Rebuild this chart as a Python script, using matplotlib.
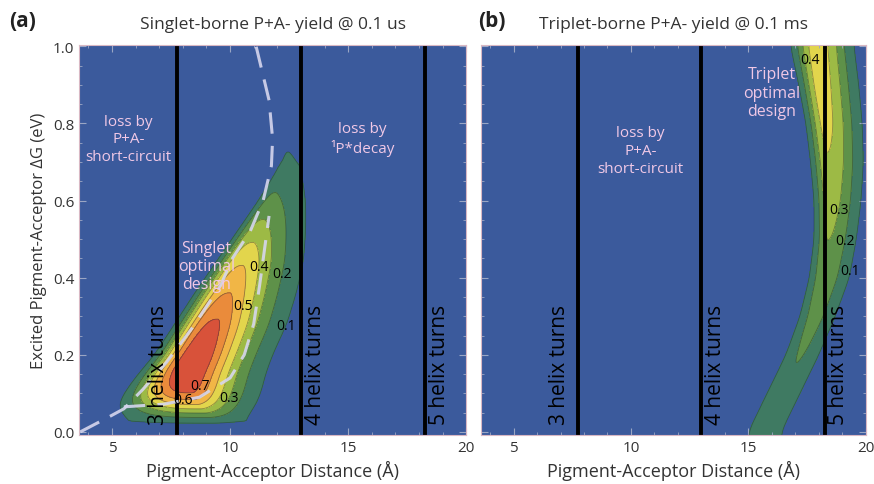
import numpy as np
import matplotlib
matplotlib.use("Agg")
import matplotlib.pyplot as plt

plt.rcParams['font.family'] = ['Open Sans', 'DejaVu Sans']

# contour levels and fill colours (below 0.1 is the blue background)
levels = [0.1, 0.2, 0.3, 0.4, 0.5, 0.6, 0.7]
fill_colors = ['#3b5a9c', '#3f7a62', '#5e9149', '#9dba45', '#e2d54c',
               '#f1b646', '#ea8b3b', '#d8523a']

# singlet-borne yield: per-row peak, ridge position and 0.1-level edges
s_dg = [0.00, 0.03, 0.06, 0.10, 0.15, 0.20, 0.28, 0.36, 0.44, 0.52, 0.60, 0.68, 0.76, 1.00]
s_peak = [0.00, 0.09, 0.42, 0.74, 0.81, 0.80, 0.72, 0.60, 0.49, 0.35, 0.22, 0.14, 0.07, 0.00]
s_ridge = [9.5, 9.3, 8.7, 8.3, 8.4, 8.8, 9.4, 10.0, 10.6, 11.2, 11.8, 12.3, 12.6, 12.8]
s_left = [6.2, 5.7, 5.2, 5.5, 6.1, 6.8, 7.65, 8.5, 9.4, 10.3, 11.2, 12.0, 12.6, 12.8]
s_right = [10.6, 10.6, 11.0, 11.3, 11.5, 11.8, 12.4, 12.8, 13.1, 13.2, 13.2, 13.0, 12.8, 12.8]

# triplet-borne yield
t_dg = [0.0, 0.1, 0.2, 0.3, 0.4, 0.5, 0.6, 0.7, 0.8, 0.9, 1.0]
t_peak = [0.165, 0.18, 0.205, 0.235, 0.265, 0.30, 0.35, 0.39, 0.43, 0.45, 0.46]
t_ridge = [15.7, 16.5, 17.2, 17.8, 18.2, 18.4, 18.45, 18.4, 18.25, 18.05, 17.9]
t_left = [15.0, 15.8, 16.6, 17.2, 17.6, 17.8, 17.8, 17.65, 17.45, 17.15, 16.8]
t_right = [16.4, 17.2, 18.0, 18.7, 19.3, 19.6, 19.8, 19.9, 19.85, 19.7, 19.5]

# optimal-design dashed curves (distance, dG)
opt_r = [3.65, 4.9, 5.5, 6.3, 7.3, 8.4, 9.6, 10.1, 10.85, 11.4, 11.75, 11.8, 11.65, 11.1]
opt_dg = [0.0, 0.04, 0.06, 0.11, 0.18, 0.27, 0.38, 0.45, 0.52, 0.60, 0.69, 0.76, 0.86, 1.0]
opt2_r = [5.5, 7.2, 8.7, 10.0, 10.6, 11.0, 11.25, 11.45, 11.65]
opt2_dg = [0.065, 0.072, 0.09, 0.14, 0.20, 0.28, 0.38, 0.47, 0.56]

helix_r = [7.75, 13.0, 18.25]
helix_labels = ['3 helix turns', '4 helix turns', '5 helix turns']

# where each contour level gets its value written
s_label_pos = {0.1: (12.2, 0.28), 0.2: (12.2, 0.41), 0.3: (9.9, 0.09),
               0.4: (10.8, 0.43), 0.5: (10.4, 0.33), 0.6: (8.0, 0.09),
               0.7: (8.9, 0.115)}
t_label_pos = {0.1: (19.5, 0.416), 0.2: (19.24, 0.496), 0.3: (18.9, 0.576),
               0.4: (17.33, 0.964)}


def smooth(v, n=9):
    k = np.exp(-0.5 * (np.arange(-2 * n, 2 * n + 1) / n) ** 2)
    k /= k.sum()
    pad = np.pad(v, 2 * n, mode='edge')
    return np.convolve(pad, k, mode='valid')


def yield_map(r, g, dg, peak, ridge, left, right, pl, pr):
    gg = g[:, 0]
    A = smooth(np.interp(gg, dg, peak))[:, None]
    c = smooth(np.interp(gg, dg, ridge))[:, None]
    lo = smooth(np.interp(gg, dg, left))[:, None]
    hi = smooth(np.interp(gg, dg, right))[:, None]
    d = r - c
    h = np.where(d < 0, np.maximum(c - lo, 0.2), np.maximum(hi - c, 0.2))
    p = np.where(d < 0, pl, pr)
    k = np.maximum(np.log(np.maximum(A, 1e-4) / 0.1), 0.3)
    return A * np.exp(-k * np.abs(d / h) ** p)


r = np.linspace(3.5, 20.1, 700)
g = np.linspace(-0.02, 1.02, 500)
R, G = np.meshgrid(r, g)
z_s = yield_map(R, G, s_dg, s_peak, s_ridge, s_left, s_right, 3.0, 1.5)
z_t = yield_map(R, G, t_dg, t_peak, t_ridge, t_left, t_right, 2.0, 2.0)

fig = plt.figure(figsize=(8.74, 4.85), dpi=100)
ax1 = fig.add_axes([0.0904, 0.101, 0.443, 0.804])
ax2 = fig.add_axes([0.550, 0.101, 0.4405, 0.804])

bounds = [-1] + levels + [5]
txt_col = '#f0c8e6'

for ax, z, lab_pos in [(ax1, z_s, s_label_pos), (ax2, z_t, t_label_pos)]:
    ax.contourf(R, G, z, levels=bounds, colors=fill_colors)
    for lev in levels:
        cs = ax.contour(R, G, z, levels=[lev], colors='#1c2c30',
                        linewidths=0.6, alpha=0.45)
        if lev in lab_pos and len(cs.allsegs[0]) > 0:
            ax.clabel(cs, manual=[lab_pos[lev]], inline=False,
                      fmt='%.1f', fontsize=10)
            for t in cs.labelTexts:
                t.set_rotation(0)
                t.set_alpha(1)
                t.set_color('black')
    for xr, lab in zip(helix_r, helix_labels):
        ax.axvline(xr, color='black', lw=2.8)
        ax.text(xr - 0.8 if xr < 10 else xr + 0.6, 0.175, lab, rotation=90,
                ha='center', va='center', fontsize=15, color='black')
    ax.set_xlim(3.6, 20.0)
    ax.set_ylim(-0.008, 1.003)
    ax.set_xticks([5, 10, 15, 20])
    ax.set_yticks([0.0, 0.2, 0.4, 0.6, 0.8, 1.0])
    ax.minorticks_on()
    ax.tick_params(which='both', direction='in', top=True, right=True,
                   color='#9aa6c4', labelsize=11, labelcolor='#333333')
    ax.tick_params(which='major', length=5)
    ax.tick_params(which='minor', length=2.5)
    for sp in ax.spines.values():
        sp.set_color('#d9b8c4')
    ax.set_xlabel('Pigment-Acceptor Distance (Å)', fontsize=13, color='#333333')

ax1.yaxis.set_major_formatter(matplotlib.ticker.FormatStrFormatter('%.1f'))
ax2.tick_params(labelleft=False)
ax1.set_ylabel('Excited Pigment-Acceptor ΔG (eV)', fontsize=12, color='#333333')

ax1.plot(opt_r, opt_dg, color='#d6d6ee', lw=2.2, dashes=(7, 4), alpha=0.9)
ax1.plot(opt2_r, opt2_dg, color='#d6d6ee', lw=2.2, dashes=(7, 4), alpha=0.9)

ax1.text(5.7, 0.76, 'loss by\nP+A-\nshort-circuit', ha='center', va='center',
         fontsize=11, color=txt_col, linespacing=1.25)
ax1.text(15.6, 0.76, 'loss by\n¹P*decay', ha='center', va='center',
         fontsize=11, color=txt_col, linespacing=1.25)
ax1.text(9.0, 0.43, 'Singlet\noptimal\ndesign', ha='center', va='center',
         fontsize=11.5, color=txt_col, linespacing=1.2)
ax2.text(10.4, 0.73, 'loss by\nP+A-\nshort-circuit', ha='center', va='center',
         fontsize=11, color=txt_col, linespacing=1.25)
ax2.text(16.0, 0.88, 'Triplet\noptimal\ndesign', ha='center', va='center',
         fontsize=11.5, color=txt_col, linespacing=1.2)

ax1.set_title('Singlet-borne P+A- yield @ 0.1 us', fontsize=12.5, color='#333333', pad=12)
ax2.set_title('Triplet-borne P+A- yield @ 0.1 ms', fontsize=12.5, color='#333333', pad=12)
fig.text(0.010, 0.955, '(a)', fontsize=15, fontweight='bold', color='#222222', va='center')
fig.text(0.547, 0.955, '(b)', fontsize=15, fontweight='bold', color='#222222', va='center')

fig.savefig('out.png', dpi=100)
